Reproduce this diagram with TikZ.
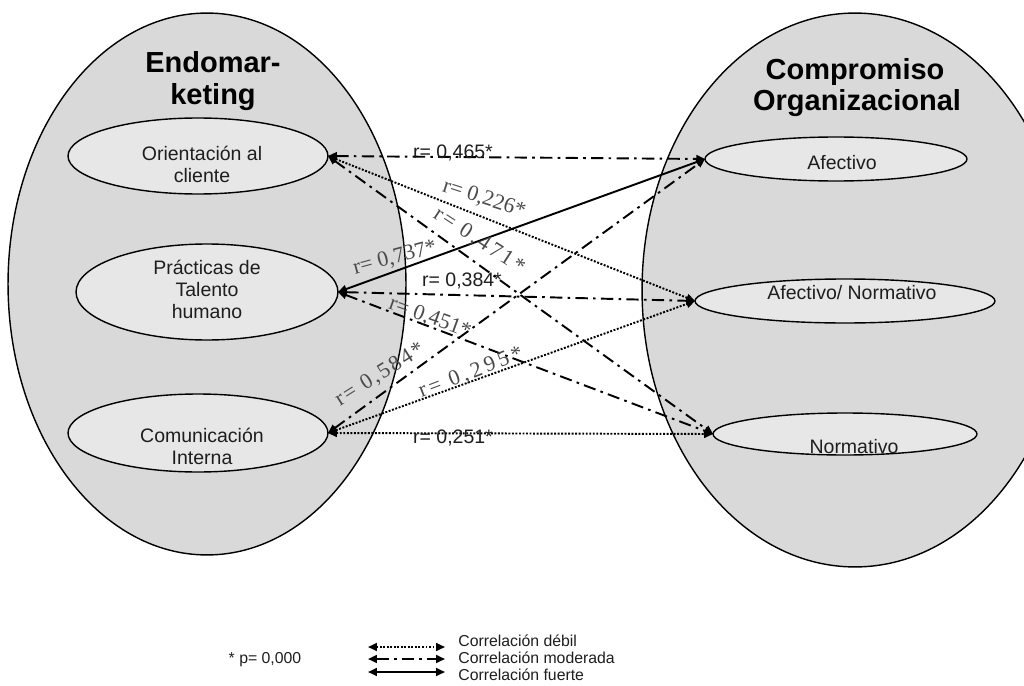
\documentclass[tikz,border=0pt]{standalone}
\usepackage{fontspec}
\setmainfont{Liberation Sans}
\newfontfamily\labserif{Liberation Serif}
\usetikzlibrary{shapes.geometric,arrows.meta}

\definecolor{outerfill}{HTML}{D9D9D9}
\definecolor{innerfill}{HTML}{E7E7E7}
\definecolor{inkgray}{HTML}{4A4A4A}
\definecolor{ink}{HTML}{1E1E1E}

\begin{document}
\begin{tikzpicture}[x=0.02cm,y=-0.02cm,
  group/.style={ellipse, draw, line width=0.8pt, fill=outerfill, inner sep=0pt, outer sep=0pt},
  dim/.style={ellipse, draw, line width=0.8pt, fill=innerfill, inner sep=0pt, outer sep=0pt},
  dimtext/.style={font=\fontsize{11.1}{12.5}\selectfont, text=ink, align=center, inner sep=0pt},
  title/.style={font=\fontsize{16.5}{18}\selectfont\bfseries, text=black, inner sep=0pt, anchor=base},
  rsans/.style={font=\fontsize{11.1}{13}\selectfont, text=ink, inner sep=0pt},
  rserif/.style={font=\labserif\fontsize{12.5}{14}\selectfont, text=inkgray, inner sep=0pt},
  link/.style={line width=1.1pt, {Triangle[length=5pt,width=4.4pt]}-{Triangle[length=5pt,width=4.4pt]}},
  weak/.style={link, line width=1.1pt, dash pattern=on 1.1pt off 0.9pt},
  moderate/.style={link, dash pattern=on 7pt off 3pt on 1.5pt off 3pt},
  strong/.style={link},
  legtext/.style={font=\fontsize{9}{9.6}\selectfont, text=ink, anchor=west, inner sep=0pt}
]
\useasboundingbox (0,0) rectangle (1024,686);

% the two constructs
\node[group, minimum width=7.96cm, minimum height=10.84cm] (EM) at (207,284) {};
\node[group, minimum width=8.52cm, minimum height=11.08cm] (CO) at (855,290) {};

\node[title] (tEM1) at (213,72) {Endomar-};
\node[title] (tEM2) at (213,105) {keting};
\node[title] (tCO1) at (855,80) {Compromiso};
\node[title] (tCO2) at (857,111) {Organizacional};

% dimensions
\node[dim, minimum width=5.2cm, minimum height=1.52cm] (OC) at (198,156) {};
\node[dim, minimum width=5.24cm, minimum height=1.92cm] (PT) at (207,292) {};
\node[dim, minimum width=5.2cm, minimum height=1.56cm] (CI) at (198,433) {};
\node[dim, minimum width=5.24cm, minimum height=0.88cm] (AF) at (836,159) {};
\node[dim, minimum width=6.0cm, minimum height=0.88cm] (AN) at (845,301) {};
\node[dim, minimum width=5.28cm, minimum height=0.84cm] (NO) at (845,434) {};

\node[dimtext] (tOC) at (202,164) {Orientación al\\cliente};
\node[dimtext] (tPT) at (207,289) {Prácticas de\\Talento\\humano};
\node[dimtext] (tCI) at (202,446) {Comunicación\\Interna};
\node[dimtext] (tAF) at (842,163) {Afectivo};
\node[dimtext] (tAN) at (852,293) {Afectivo/ Normativo};
\node[dimtext] (tNO) at (854,447) {Normativo};

% correlations
\draw[moderate] (OC.east) -- (AF.west);
\draw[weak] (OC.east) -- (AN.west);
\draw[moderate] (OC.east) -- (NO.west);
\draw[strong] (PT.east) -- (AF.west);
\draw[moderate] (PT.east) -- (AN.west);
\draw[moderate] (PT.east) -- (NO.west);
\draw[moderate] (CI.east) -- (AF.west);
\draw[weak] (CI.east) -- (AN.west);
\draw[weak] (CI.east) -- (NO.west);

\node[rsans] (l465) at (453,153) {r= 0,465*};
\node[rsans] (l384) at (462,281) {r= 0,384*};
\node[rsans] (l251) at (453,438) {r= 0,251*};
\node[rserif, rotate=-18] (l226) at (484,199) {r= 0,226*};
\node[rserif, rotate=-33] (l471) at (479,241) {\addfontfeature{LetterSpace=12}r= 0,471*};
\node[rserif, rotate=15] (l737) at (395,258) {r= 0,737*};
\node[rserif, rotate=-20] (l451) at (430,318) {r= 0,451*};
\node[rserif, rotate=32] (l584) at (380,375) {\addfontfeature{LetterSpace=10}r= 0,584*};
\node[rserif, rotate=21] (l295) at (471,373) {\addfontfeature{LetterSpace=16}r= 0,295*};

% legend
\node[legtext, anchor=center] (pval) at (265,660) {* p= 0,000};
\coordinate (w1) at (368,647); \coordinate (w2) at (445,647);
\coordinate (m1) at (368,659); \coordinate (m2) at (445,659);
\coordinate (s1) at (368,672); \coordinate (s2) at (445,672);
\draw[weak] (w1) -- (w2);
\draw[moderate] (m1) -- (m2);
\draw[strong] (s1) -- (s2);
\node[legtext] (lw) at (458,641) {Correlación débil};
\node[legtext] (lm) at (458,658) {Correlación moderada};
\node[legtext] (ls) at (458,675) {Correlación fuerte};
\end{tikzpicture}
\end{document}
